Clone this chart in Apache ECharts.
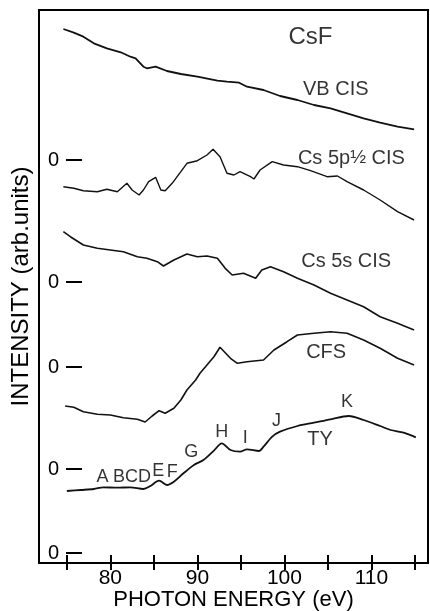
<!DOCTYPE html>
<html>
<head>
<meta charset="utf-8">
<title>CsF</title>
<script src="https://cdn.jsdelivr.net/npm/echarts@6/dist/echarts.min.js"></script>
<style>
  html, body { margin: 0; background: #fff; }
  #main { width: 430px; height: 611px; }
</style>
</head>
<body>
<div id="main"></div>
<script>
// photon energy (eV) and intensity above each curve's own zero line (arb. units)
var vbE = [74.6, 75.8, 76.9, 78.1, 79.6, 81.2, 82.3, 82.9, 83.8, 84.2, 85.2, 86.5, 88.1, 90.0, 92.3, 93.4, 94.8, 95.7, 97.6, 99.5, 101.5, 103.4, 105.3, 107.2, 109.1, 111.0, 113.0, 114.9];
var vbI = [131, 127.3, 123.3, 116.7, 111.7, 107.7, 103.3, 101.7, 93.3, 91.7, 93.3, 89, 86, 83.3, 79.3, 78.3, 77.3, 73.3, 70, 64, 60, 55, 51.7, 46.7, 41.7, 37.3, 33.3, 30.7];

var p5E = [74.6, 75.8, 76.9, 78.5, 79.6, 80.8, 81.9, 82.5, 83.3, 83.8, 84.4, 85.2, 85.8, 86.3, 87.1, 88.1, 88.8, 90.0, 91.1, 91.8, 92.6, 93.4, 94.2, 94.9, 96.1, 96.5, 97.2, 98.6, 99.9, 101.5, 103.0, 104.9, 106.1, 107.2, 109.1, 111.0, 113.0, 114.9];
var p5I = [95.3, 93.7, 91.3, 90.3, 92.7, 90.3, 98.7, 92, 87, 92, 100.3, 104.7, 92, 91.3, 98.7, 110.3, 118.7, 121.3, 127, 132.7, 125.3, 108.7, 107, 110.3, 105.3, 103, 112, 120.3, 117, 115.3, 111.3, 105.3, 106, 100.3, 92, 82, 70.3, 62];

var s5E = [74.6, 75.4, 76.9, 78.5, 80.0, 81.5, 83.1, 84.2, 85.4, 86.1, 87.3, 88.8, 90.0, 91.1, 92.3, 93.2, 94.0, 95.3, 96.7, 97.4, 98.4, 99.9, 101.5, 103.4, 105.3, 107.2, 109.1, 111.0, 113.0, 114.9];
var s5I = [135.3, 130.3, 122, 118.7, 117, 115.3, 110.3, 108.7, 105.3, 101, 107, 113, 110.3, 111, 108.7, 98.7, 92, 93.7, 88.7, 97, 100.3, 95.3, 88.7, 82, 73.7, 67, 60.3, 50.3, 43.7, 37];

var cfsE = [74.8, 75.8, 76.9, 78.5, 80.0, 81.5, 83.1, 84.0, 84.8, 85.6, 86.3, 87.3, 88.1, 88.8, 89.8, 90.3, 91.9, 92.6, 93.8, 94.6, 95.7, 97.6, 98.8, 100.3, 101.5, 103.4, 105.3, 107.2, 109.1, 111.0, 113.0, 114.9];
var cfsI = [63, 61.7, 57.3, 54.7, 54, 51.3, 49.7, 47, 53, 58.3, 55.7, 60.7, 69, 79, 89, 95.7, 112.3, 121.7, 110.7, 105.7, 107.3, 109, 119, 127.3, 134, 135.7, 137.3, 135.7, 129, 120.7, 110.7, 104];

var tyE = [75.0, 76.6, 78.1, 79.2, 80.8, 82.3, 83.8, 84.6, 85.6, 86.5, 87.3, 88.4, 89.6, 90.7, 91.9, 92.8, 93.8, 94.9, 95.7, 97.1, 97.6, 98.6, 99.5, 101.5, 103.4, 105.3, 107.4, 109.1, 111.0, 112.2, 113.7, 115.1];
var tyI = [62, 63, 64, 65.7, 65.3, 65.7, 64, 67, 72.3, 68, 71.3, 79.7, 88, 93, 102.3, 109.7, 103, 101.3, 103.7, 102, 106.3, 116.3, 121.3, 127, 130.3, 133.7, 137, 133, 127, 123, 120.3, 115.7];

// vertical offset (zero level) of each stacked curve: VB, 5p, 5s, CFS, TY
var zeroLevels = [403, 281, 196, 94, 10];

var xTicks = [75, 80, 85, 90, 95, 100, 105, 110, 115];
var xLabels = [80, 90, 100, 110];

// text annotations [energy, level, text]
var curveNames = [[105.9, 474, 'VB CIS'], [107.7, 405, 'Cs 5p{f|½} CIS'], [107.1, 302, 'Cs 5s CIS'], [104.8, 211, 'CFS'], [104.1, 124, 'TY']];
var peakNames = [[79.1, 86, 'A'], [82.5, 86, 'BCD'], [85.5, 92, 'E'], [87.1, 91, 'F'], [89.3, 111, 'G'], [92.8, 131, 'H'], [95.5, 125, 'I'], [99.1, 142, 'J'], [107.2, 161, 'K']];
var titleNote = [[103.0, 526, 'CsF']];

function pairs(es, vals, zero) {
  return es.map(function (e, i) { return [e, zero + vals[i]]; });
}

var font = "'Liberation Sans', 'DejaVu Sans', sans-serif";
var chart = echarts.init(document.getElementById('main'));

function curve(name, es, vals, zero, w, smooth) {
  return {
    name: name, type: 'line', data: pairs(es, vals, zero),
    showSymbol: false, smooth: smooth || false,
    lineStyle: { color: '#111', width: w }
  };
}
function notes(list, size) {
  return {
    type: 'scatter', data: list, symbolSize: 1,
    itemStyle: { color: 'transparent' },
    label: {
      show: true, position: 'inside', color: '#000', fontSize: size, fontFamily: font,
      formatter: function (p) { return p.data[2]; },
      rich: { f: { fontSize: 19, fontFamily: font, color: '#000' } }
    },
    silent: true
  };
}

chart.setOption({
  animation: false,
  backgroundColor: '#fff',
  grid: {
    left: 39, right: 2, top: 10, bottom: 48, outerBoundsMode: 'none', containLabel: false,
    show: true, borderColor: '#000', borderWidth: 2
  },
  xAxis: [{
    type: 'value', min: 71.8, max: 116.5, position: 'bottom',
    name: 'PHOTON ENERGY (eV)', nameLocation: 'middle', nameGap: 26, nameMoveOverlap: false,
    nameTextStyle: { fontSize: 22, fontFamily: font, color: '#000', verticalAlign: 'top', lineHeight: 22 },
    axisLine: { lineStyle: { color: '#000', width: 2 } },
    axisTick: { inside: true, length: 8, customValues: xTicks, lineStyle: { color: '#000', width: 2 } },
    axisLabel: { customValues: xLabels, fontSize: 21, fontFamily: font, color: '#000', margin: 5 },
    splitLine: { show: false }
  }, {
    type: 'value', min: 71.8, max: 116.5, position: 'top',
    axisLine: { lineStyle: { color: '#000', width: 2 } },
    axisTick: { inside: true, length: 7, customValues: xTicks, lineStyle: { color: '#000', width: 2 } },
    axisLabel: { show: false },
    splitLine: { show: false }
  }],
  yAxis: [{
    type: 'value', min: 0, max: 553, position: 'left',
    name: 'INTENSITY (arb.units)', nameLocation: 'middle', nameGap: 6, nameRotate: 90,
    nameTextStyle: { fontSize: 24, fontFamily: font, color: '#000' },
    axisLine: { show: true, lineStyle: { color: '#000', width: 2 } },
    axisTick: { show: false },
    axisLabel: { show: false },
    splitLine: { show: false }
  }, {
    type: 'value', min: 0, max: 553, position: 'left', offset: -27,
    axisLine: { show: false },
    axisTick: { show: true, inside: true, length: 16, customValues: zeroLevels, lineStyle: { color: '#000', width: 2 } },
    axisLabel: { customValues: zeroLevels, formatter: function () { return '0'; }, fontSize: 20, fontFamily: font, color: '#000', margin: 7 },
    splitLine: { show: false }
  }],
  series: [
    curve('VB CIS', vbE, vbI, zeroLevels[0], 1.8),
    curve('Cs 5p1/2 CIS', p5E, p5I, zeroLevels[1], 1.4),
    curve('Cs 5s CIS', s5E, s5I, zeroLevels[2], 1.6),
    curve('CFS', cfsE, cfsI, zeroLevels[3], 1.6),
    curve('TY', tyE, tyI, zeroLevels[4], 1.8, 0.3),
    notes(curveNames, 20),
    notes(peakNames, 18),
    notes(titleNote, 24)
  ]
});
</script>
</body>
</html>
